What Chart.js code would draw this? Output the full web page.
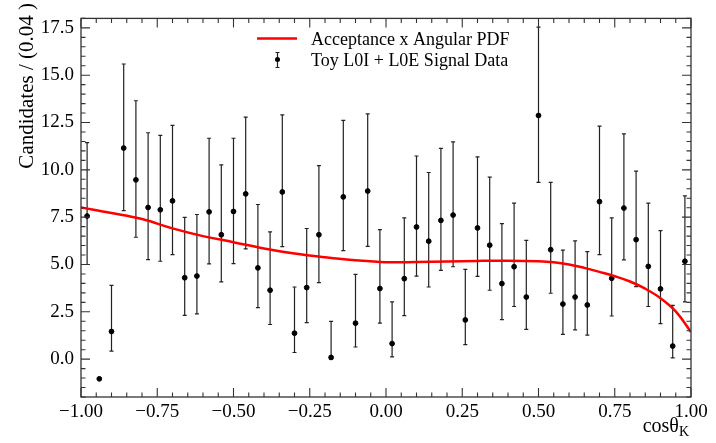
<!DOCTYPE html>
<html>
<head>
<meta charset="utf-8">
<script src="https://cdn.jsdelivr.net/npm/chart.js@4.4.1/dist/chart.umd.min.js"></script>
<style>
  html, body { margin: 0; padding: 0; background: #fff; }
  #wrap { width: 716px; height: 443px; }
</style>
</head>
<body>
<div id="wrap"><canvas id="chart" width="716" height="443"></canvas></div>
<script>
// bin centres of cos(theta_K), width 0.04
const binCenters = [-0.98, -0.94, -0.90, -0.86, -0.82, -0.78, -0.74, -0.70, -0.66, -0.62,
                    -0.58, -0.54, -0.50, -0.46, -0.42, -0.38, -0.34, -0.30, -0.26, -0.22,
                    -0.18, -0.14, -0.10, -0.06, -0.02, 0.02, 0.06, 0.10, 0.14, 0.18,
                    0.22, 0.26, 0.30, 0.34, 0.38, 0.42, 0.46, 0.50, 0.54, 0.58,
                    0.62, 0.66, 0.70, 0.74, 0.78, 0.82, 0.86, 0.90, 0.94, 0.98];
const candidates = [7.56, -1.04, 1.46, 11.15, 9.47, 8.01, 7.89, 8.36, 4.30, 4.39,
                    7.78, 6.57, 7.80, 8.73, 4.82, 3.64, 8.83, 1.37, 3.78, 6.57,
                    0.09, 8.57, 1.90, 8.88, 3.73, 0.82, 4.25, 6.98, 6.23, 7.33,
                    7.61, 2.07, 6.93, 6.02, 3.99, 4.88, 3.28, 12.87, 5.78, 2.91,
                    3.28, 2.86, 8.32, 4.27, 7.98, 6.31, 4.90, 3.71, 0.69, 5.17];
const errUp = [3.88, 0, 2.44, 4.44, 4.18, 3.95, 3.93, 3.99, 3.19, 3.25,
               3.89, 3.69, 3.87, 4.05, 3.35, 3.08, 4.07, 2.44, 3.12, 3.65,
               1.91, 4.04, 2.58, 4.08, 3.11, 2.21, 3.21, 3.75, 3.63, 3.80,
               3.87, 2.67, 3.76, 3.59, 3.17, 3.36, 2.99, 4.67, 3.56, 2.85,
               2.97, 2.82, 3.99, 3.19, 3.92, 3.62, 3.34, 3.08, 2.15, 3.45];
const errDown = [2.56, 0, 1.04, 3.30, 3.03, 2.75, 2.72, 2.84, 1.99, 2.00,
                 2.75, 2.49, 2.75, 2.91, 2.10, 1.81, 2.89, 1.02, 1.85, 2.53,
                 0.09, 2.84, 1.26, 2.92, 1.83, 0.70, 1.95, 2.59, 2.42, 2.64,
                 2.73, 1.30, 2.56, 2.38, 1.90, 2.10, 1.71, 3.53, 2.30, 1.60,
                 1.73, 1.59, 2.80, 1.99, 2.74, 2.48, 2.12, 1.83, 0.62, 2.14];

// acceptance x angular PDF curve
const pdfX = [-1.0, -0.9, -0.8, -0.7, -0.6, -0.5, -0.4, -0.3, -0.2, -0.1, 0.0, 0.1,
              0.2, 0.3, 0.4, 0.5, 0.55, 0.6, 0.65, 0.7, 0.75, 0.8, 0.85, 0.9, 0.95, 1.0];
const pdfY = [8.01, 7.72, 7.40, 6.91, 6.50, 6.18, 5.85, 5.58, 5.38, 5.22, 5.12, 5.13,
              5.16, 5.19, 5.20, 5.17, 5.12, 5.00, 4.82, 4.61, 4.38, 4.10, 3.72, 3.22, 2.52, 1.43];

const xTicks = [-1.0, -0.75, -0.5, -0.25, 0.0, 0.25, 0.5, 0.75, 1.0];
const yTicks = [0.0, 2.5, 5.0, 7.5, 10.0, 12.5, 15.0, 17.5];

const serif = "'Liberation Serif', 'DejaVu Serif', serif";
const fmt = (v, d) => (v < 0 ? '\u2212' : '') + Math.abs(v).toFixed(d);

// error bars, frame, inward ticks, legend and axis titles
const rootStyle = {
    id: 'rootStyle',
    beforeDatasetsDraw(chart) {
        const ctx = chart.ctx, xs = chart.scales.x, ys = chart.scales.y;
        ctx.save();
        ctx.strokeStyle = '#222';
        ctx.lineWidth = 1.2;
        binCenters.forEach((b, i) => {
            if (!errUp[i] && !errDown[i]) return;
            const px = xs.getPixelForValue(b);
            const top = ys.getPixelForValue(candidates[i] + errUp[i]);
            const bot = ys.getPixelForValue(candidates[i] - errDown[i]);
            ctx.beginPath();
            ctx.moveTo(px, top); ctx.lineTo(px, bot);
            ctx.moveTo(px - 2, top); ctx.lineTo(px + 2, top);
            ctx.moveTo(px - 2, bot); ctx.lineTo(px + 2, bot);
            ctx.stroke();
        });
        ctx.restore();
    },
    afterDraw(chart) {
        const ctx = chart.ctx, xs = chart.scales.x, ys = chart.scales.y;
        const a = chart.chartArea;
        ctx.save();
        ctx.strokeStyle = '#333';
        ctx.lineWidth = 1.3;
        ctx.strokeRect(a.left, a.top, a.right - a.left, a.bottom - a.top);
        ctx.lineWidth = 1.1;
        ctx.beginPath();
        for (let v = -1; v <= 1.0001; v += 0.05) {
            const px = xs.getPixelForValue(v);
            const major = Math.abs(v * 4 - Math.round(v * 4)) < 1e-6;
            const len = major ? 9 : 4.5;
            ctx.moveTo(px, a.bottom); ctx.lineTo(px, a.bottom - len);
            ctx.moveTo(px, a.top); ctx.lineTo(px, a.top + len);
        }
        for (let v = -2; v <= 18.0001; v += 0.5) {
            const py = ys.getPixelForValue(v);
            const major = Math.abs(v / 2.5 - Math.round(v / 2.5)) < 1e-6;
            const len = major ? 9 : 4.5;
            ctx.moveTo(a.left, py); ctx.lineTo(a.left + len, py);
            ctx.moveTo(a.right, py); ctx.lineTo(a.right - len, py);
        }
        ctx.stroke();

        // legend
        ctx.strokeStyle = '#ff0000';
        ctx.lineWidth = 2.5;
        ctx.beginPath();
        ctx.moveTo(257, 38.5); ctx.lineTo(297, 38.5);
        ctx.stroke();
        ctx.strokeStyle = '#222';
        ctx.lineWidth = 1.2;
        ctx.beginPath();
        ctx.moveTo(277.5, 52.5); ctx.lineTo(277.5, 67.5);
        ctx.moveTo(275.5, 52.5); ctx.lineTo(279.5, 52.5);
        ctx.moveTo(275.5, 67.5); ctx.lineTo(279.5, 67.5);
        ctx.stroke();
        ctx.fillStyle = '#000';
        ctx.beginPath();
        ctx.arc(277.5, 59.5, 2.5, 0, Math.PI * 2);
        ctx.fill();
        ctx.font = '18px ' + serif;
        ctx.textAlign = 'left';
        ctx.textBaseline = 'alphabetic';
        ctx.fillText('Acceptance x Angular PDF', 311, 44.5);
        ctx.fillText('Toy L0I + L0E Signal Data', 311, 65.5);

        // x title: cos theta_K
        const main = 'cos\u03b8';
        ctx.font = '14px ' + serif;
        const subW = ctx.measureText('K').width;
        ctx.font = '20px ' + serif;
        const mainW = ctx.measureText(main).width;
        const x0 = 689 - mainW - subW;
        ctx.fillText(main, x0, 432);
        ctx.font = '14px ' + serif;
        ctx.fillText('K', x0 + mainW, 436);

        // y title
        ctx.translate(33, 3);
        ctx.rotate(-Math.PI / 2);
        ctx.font = '21px ' + serif;
        ctx.textAlign = 'right';
        ctx.fillText('Candidates / (0.04 )', 0, 0);
        ctx.restore();
    }
};

new Chart(document.getElementById('chart'), {
    type: 'scatter',
    data: {
        datasets: [{
            type: 'line',
            label: 'Acceptance x Angular PDF',
            data: pdfX.map((x, i) => ({ x: x, y: pdfY[i] })),
            borderColor: '#ff0000',
            borderWidth: 2.5,
            pointRadius: 0,
            fill: false,
            tension: 0.4
        }, {
            label: 'Toy L0I + L0E Signal Data',
            data: binCenters.map((x, i) => ({ x: x, y: candidates[i] })),
            backgroundColor: '#000',
            borderColor: '#000',
            pointRadius: 2.4,
            pointHoverRadius: 2.4
        }]
    },
    options: {
        responsive: false,
        animation: false,
        events: [],
        layout: { padding: { top: 15, right: 25, left: 0, bottom: 0 } },
        plugins: { legend: { display: false }, tooltip: { enabled: false } },
        scales: {
            x: {
                type: 'linear',
                min: -1, max: 1,
                afterBuildTicks: s => { s.ticks = xTicks.map(v => ({ value: v })); },
                afterFit: s => { s.height = 46; },
                grid: { display: false, drawTicks: false },
                border: { display: false },
                ticks: {
                    padding: 4,
                    color: '#000',
                    maxRotation: 0,
                    autoSkip: false,
                    font: { family: serif, size: 19 },
                    callback: v => fmt(v, 2)
                }
            },
            y: {
                type: 'linear',
                min: -2, max: 18,
                afterBuildTicks: s => { s.ticks = yTicks.map(v => ({ value: v })); },
                afterFit: s => { s.width = 81; },
                grid: { display: false, drawTicks: false },
                border: { display: false },
                ticks: {
                    padding: 7,
                    color: '#000',
                    autoSkip: false,
                    font: { family: serif, size: 19 },
                    callback: v => fmt(v, 1)
                }
            }
        }
    },
    plugins: [rootStyle]
});
</script>
</body>
</html>
